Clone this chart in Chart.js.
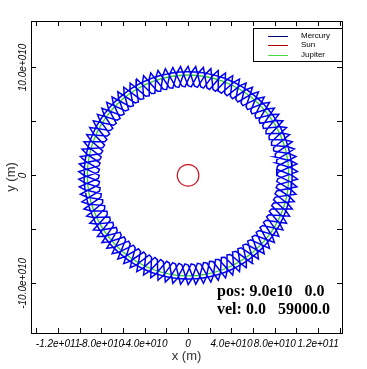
<!DOCTYPE html>
<html>
<head>
<meta charset="utf-8">
<title>Orbits</title>
<script src="https://cdn.jsdelivr.net/npm/chart.js@4.4.1/dist/chart.umd.min.js"></script>
<style>
  html, body { margin: 0; padding: 0; background: #fff; }
  #wrap { width: 367px; height: 369px; }
</style>
</head>
<body>
<div id="wrap"><canvas id="orbitChart" width="367" height="369"></canvas></div>
<script>
// all positions in units of 1e10 m

// Mercury track, first turn (loop by loop)
const mercuryX1 = [
  8.2, 8.29, 10.04, 9.51, 9.58,   8.12, 8.17, 9.80, 9.23, 9.39,   7.88, 7.89, 9.36, 8.77, 9.02,
  7.49, 7.46, 8.75, 8.14, 8.48,   6.95, 6.88, 7.96, 7.35, 7.77,   6.28, 6.17, 7.02, 6.42, 6.91,
  5.49, 5.34, 5.94, 5.37, 5.91,   4.59, 4.40, 4.74, 4.21, 4.80,   3.59, 3.38, 3.45, 2.97, 3.60,
  2.53, 2.29, 2.10, 1.67, 2.32,   1.42, 1.16, 0.70, 0.34, 1.00,   0.29, 0, -0.70, -1.00, -0.34,
  -0.86, -1.16, -2.10, -2.32, -1.67,   -1.98, -2.29, -3.45, -3.60, -2.97,   -3.07, -3.38, -4.74, -4.80, -4.21,
  -4.10, -4.40, -5.94, -5.91, -5.37,   -5.05, -5.34, -7.02, -6.91, -6.42,   -5.90, -6.17, -7.96, -7.77, -7.35,
  -6.63, -6.88, -8.75, -8.48, -8.14,   -7.24, -7.46, -9.36, -9.02, -8.77,   -7.71, -7.89, -9.80, -9.39, -9.23,
  -8.02, -8.17, -10.04, -9.58, -9.51,   -8.18, -8.29, -10.09, -9.58, -9.6,   -8.18, -8.25, -9.95, -9.39, -9.51,
  -8.02, -8.05, -9.61, -9.02, -9.23,   -7.71, -7.70, -9.08, -8.48, -8.77,   -7.24, -7.19, -8.37, -7.77, -8.14,
  -6.63, -6.54, -7.51, -6.91, -7.35,   -5.90, -5.77, -6.49, -5.91, -6.42,   -5.05, -4.88, -5.35, -4.80, -5.37,
  -4.10, -3.90, -4.11, -3.60, -4.21,   -3.07, -2.84, -2.78, -2.32, -2.97,   -1.98, -1.73, -1.41, -1.00, -1.67,
  -0.86, -0.58, 0, 0.34, -0.34,   0.29, 0.58, 1.41, 1.67, 1.00,   1.42, 1.73, 2.78, 2.97, 2.32,
  2.53, 2.84, 4.11, 4.21, 3.60,   3.59, 3.90, 5.35, 5.37, 4.80,   4.59, 4.88, 6.49, 6.42, 5.91,
  5.49, 5.77, 7.51, 7.35, 6.91,   6.28, 6.54, 8.37, 8.14, 7.77,   6.95, 7.19, 9.08, 8.77, 8.48,
  7.49, 7.70, 9.61, 9.23, 9.02,   7.88, 8.05, 9.95, 9.51, 9.39,   8.12, 8.25, 10.09, 9.6, 9.58,
  8.2
];
const mercuryY1 = [
  0, 0.29, 1.06, 1.34, 0.67,   1.14, 1.44, 2.44, 2.65, 2.00,   2.26, 2.56, 3.78, 3.90, 3.28,
  3.33, 3.64, 5.05, 5.09, 4.51,   4.35, 4.64, 6.22, 6.17, 5.64,   5.27, 5.55, 7.26, 7.13, 6.67,
  6.09, 6.36, 8.17, 7.96, 7.56,   6.80, 7.04, 8.92, 8.63, 8.31,   7.37, 7.58, 9.49, 9.13, 8.90,
  7.80, 7.98, 9.88, 9.45, 9.31,   8.08, 8.22, 10.08, 9.59, 9.55,   8.20, 8.30, 10.08, 9.55, 9.59,
  8.15, 8.22, 9.88, 9.31, 9.45,   7.96, 7.98, 9.49, 8.90, 9.13,   7.60, 7.58, 8.92, 8.31, 8.63,
  7.10, 7.04, 8.17, 7.56, 7.96,   6.46, 6.36, 7.26, 6.67, 7.13,   5.70, 5.55, 6.22, 5.64, 6.17,
  4.82, 4.64, 5.05, 4.51, 5.09,   3.85, 3.64, 3.78, 3.28, 3.90,   2.80, 2.56, 2.44, 2.00, 2.65,
  1.70, 1.44, 1.06, 0.67, 1.34,   0.57, 0.29, -0.35, -0.67, 0,   -0.57, -0.87, -1.75, -2.00, -1.34,
  -1.70, -2.01, -3.12, -3.28, -2.65,   -2.80, -3.11, -4.43, -4.51, -3.90,   -3.85, -4.15, -5.65, -5.64, -5.09,
  -4.82, -5.11, -6.76, -6.67, -6.17,   -5.70, -5.97, -7.74, -7.56, -7.13,   -6.46, -6.71, -8.56, -8.31, -7.96,
  -7.10, -7.33, -9.23, -8.90, -8.63,   -7.60, -7.80, -9.71, -9.31, -9.13,   -7.96, -8.12, -10.00, -9.55, -9.45,
  -8.15, -8.28, -10.1, -9.59, -9.59,   -8.20, -8.28, -10.00, -9.45, -9.55,   -8.08, -8.12, -9.71, -9.13, -9.31,
  -7.80, -7.80, -9.23, -8.63, -8.90,   -7.37, -7.33, -8.56, -7.96, -8.31,   -6.80, -6.71, -7.74, -7.13, -7.56,
  -6.09, -5.97, -6.76, -6.17, -6.67,   -5.27, -5.11, -5.65, -5.09, -5.64,   -4.35, -4.15, -4.43, -3.90, -4.51,
  -3.33, -3.11, -3.12, -2.65, -3.28,   -2.26, -2.01, -1.75, -1.34, -2.00,   -1.14, -0.87, -0.35, 0, -0.67,
  0
];

// Mercury track, second turn (loops sit half a step further round)
const mercuryX2 = [
  8.18, 8.25, 9.95, 9.39, 9.51,   8.02, 8.05, 9.61, 9.02, 9.23,   7.71, 7.70, 9.08, 8.48, 8.77,
  7.24, 7.19, 8.37, 7.77, 8.14,   6.63, 6.54, 7.51, 6.91, 7.35,   5.90, 5.77, 6.49, 5.91, 6.42,
  5.05, 4.88, 5.35, 4.80, 5.37,   4.10, 3.90, 4.11, 3.60, 4.21,   3.07, 2.84, 2.78, 2.32, 2.97,
  1.98, 1.73, 1.41, 1.00, 1.67,   0.86, 0.58, 0, -0.34, 0.34,   -0.29, -0.58, -1.41, -1.67, -1.00,
  -1.42, -1.73, -2.78, -2.97, -2.32,   -2.53, -2.84, -4.11, -4.21, -3.60,   -3.59, -3.90, -5.35, -5.37, -4.80,
  -4.59, -4.88, -6.49, -6.42, -5.91,   -5.49, -5.77, -7.51, -7.35, -6.91,   -6.28, -6.54, -8.37, -8.14, -7.77,
  -6.95, -7.19, -9.08, -8.77, -8.48,   -7.49, -7.70, -9.61, -9.23, -9.02,   -7.88, -8.05, -9.95, -9.51, -9.39,
  -8.12, -8.25, -10.09, -9.6, -9.58,   -8.2, -8.29, -10.04, -9.51, -9.58,   -8.12, -8.17, -9.80, -9.23, -9.39,
  -7.88, -7.89, -9.36, -8.77, -9.02,   -7.49, -7.46, -8.75, -8.14, -8.48,   -6.95, -6.88, -7.96, -7.35, -7.77,
  -6.28, -6.17, -7.02, -6.42, -6.91,   -5.49, -5.34, -5.94, -5.37, -5.91,   -4.59, -4.40, -4.74, -4.21, -4.80,
  -3.59, -3.38, -3.45, -2.97, -3.60,   -2.53, -2.29, -2.10, -1.67, -2.32,   -1.42, -1.16, -0.70, -0.34, -1.00,
  -0.29, 0, 0.70, 1.00, 0.34,   0.86, 1.16, 2.10, 2.32, 1.67,   1.98, 2.29, 3.45, 3.60, 2.97,
  3.07, 3.38, 4.74, 4.80, 4.21,   4.10, 4.40, 5.94, 5.91, 5.37,   5.05, 5.34, 7.02, 6.91, 6.42,
  5.90, 6.17, 7.96, 7.77, 7.35,   6.63, 6.88, 8.75, 8.48, 8.14,   7.24, 7.46, 9.36, 9.02, 8.77,
  7.71, 7.89, 9.80, 9.39, 9.23,   8.02, 8.17, 10.04, 9.58, 9.51,   8.18, 8.29, 10.09, 9.58, 9.6,
  8.18
];
const mercuryY2 = [
  0.57, 0.87, 1.75, 2.00, 1.34,   1.70, 2.01, 3.12, 3.28, 2.65,   2.80, 3.11, 4.43, 4.51, 3.90,
  3.85, 4.15, 5.65, 5.64, 5.09,   4.82, 5.11, 6.76, 6.67, 6.17,   5.70, 5.97, 7.74, 7.56, 7.13,
  6.46, 6.71, 8.56, 8.31, 7.96,   7.10, 7.33, 9.23, 8.90, 8.63,   7.60, 7.80, 9.71, 9.31, 9.13,
  7.96, 8.12, 10.00, 9.55, 9.45,   8.15, 8.28, 10.1, 9.59, 9.59,   8.20, 8.28, 10.00, 9.45, 9.55,
  8.08, 8.12, 9.71, 9.13, 9.31,   7.80, 7.80, 9.23, 8.63, 8.90,   7.37, 7.33, 8.56, 7.96, 8.31,
  6.80, 6.71, 7.74, 7.13, 7.56,   6.09, 5.97, 6.76, 6.17, 6.67,   5.27, 5.11, 5.65, 5.09, 5.64,
  4.35, 4.15, 4.43, 3.90, 4.51,   3.33, 3.11, 3.12, 2.65, 3.28,   2.26, 2.01, 1.75, 1.34, 2.00,
  1.14, 0.87, 0.35, 0, 0.67,   0, -0.29, -1.06, -1.34, -0.67,   -1.14, -1.44, -2.44, -2.65, -2.00,
  -2.26, -2.56, -3.78, -3.90, -3.28,   -3.33, -3.64, -5.05, -5.09, -4.51,   -4.35, -4.64, -6.22, -6.17, -5.64,
  -5.27, -5.55, -7.26, -7.13, -6.67,   -6.09, -6.36, -8.17, -7.96, -7.56,   -6.80, -7.04, -8.92, -8.63, -8.31,
  -7.37, -7.58, -9.49, -9.13, -8.90,   -7.80, -7.98, -9.88, -9.45, -9.31,   -8.08, -8.22, -10.08, -9.59, -9.55,
  -8.20, -8.3, -10.08, -9.55, -9.59,   -8.15, -8.22, -9.88, -9.31, -9.45,   -7.96, -7.98, -9.49, -8.90, -9.13,
  -7.60, -7.58, -8.92, -8.31, -8.63,   -7.10, -7.04, -8.17, -7.56, -7.96,   -6.46, -6.36, -7.26, -6.67, -7.13,
  -5.70, -5.55, -6.22, -5.64, -6.17,   -4.82, -4.64, -5.05, -4.51, -5.09,   -3.85, -3.64, -3.78, -3.28, -3.90,
  -2.80, -2.56, -2.44, -2.00, -2.65,   -1.70, -1.44, -1.06, -0.67, -1.34,   -0.57, -0.29, 0.35, 0.67, 0,
  0.57
];

// Sun (small red ring round the origin)
const sunX = [1.0, 0.87, 0.5, 0, -0.5, -0.87, -1.0, -0.87, -0.5, 0, 0.5, 0.87, 1.0];
const sunY = [0, 0.5, 0.87, 1.0, 0.87, 0.5, 0, -0.5, -0.87, -1.0, -0.87, -0.5, 0];

// Jupiter track (green ring under the Mercury loops)
const jupiterX = [9.30, 9.16, 8.74, 8.05, 7.12, 5.98, 4.65, 3.18, 1.61, 0,
  -1.61, -3.18, -4.65, -5.98, -7.12, -8.05, -8.74, -9.16, -9.30,
  -9.16, -8.74, -8.05, -7.12, -5.98, -4.65, -3.18, -1.61, 0,
  1.61, 3.18, 4.65, 5.98, 7.12, 8.05, 8.74, 9.16, 9.30];
const jupiterY = [0, 1.61, 3.18, 4.65, 5.98, 7.12, 8.05, 8.74, 9.16, 9.30,
  9.16, 8.74, 8.05, 7.12, 5.98, 4.65, 3.18, 1.61, 0,
  -1.61, -3.18, -4.65, -5.98, -7.12, -8.05, -8.74, -9.16, -9.30,
  -9.16, -8.74, -8.05, -7.12, -5.98, -4.65, -3.18, -1.61, 0];

const seriesNames = ['Mercury', 'Sun', 'Jupiter'];
const seriesColors = ['#0000ee', '#cc1122', '#33cc33'];

// ticks
const xTickMarks = [-14, -12, -10, -8, -6, -4, -2, 0, 2, 4, 6, 8, 10, 12, 14];
const xLabelValues = [-12, -8, -4, 0, 4, 8, 12];
const xLabelTexts = ['-1.2e+011', '-8.0e+010', '-4.0e+010', '0', '4.0e+010', '8.0e+010', '1.2e+011'];
const yTickMarks = [-10, -5, 0, 5, 10];
const yLabelValues = [-10, 0, 10];
const yLabelTexts = ['-10.0e+010', '0', '10.0e+010'];

const infoLines = ['pos: 9.0e10   0.0', 'vel: 0.0   59000.0'];

const toPoints = (xs, ys) => xs.map((x, i) => ({ x: x, y: ys[i] }));

// frame, inward ticks, y labels, legend box and the pos/vel text
const framePlugin = {
  id: 'framePlugin',
  afterDraw(chart) {
    const ctx = chart.ctx;
    const a = chart.chartArea;
    const xs = chart.scales.x;
    const ys = chart.scales.y;
    ctx.save();
    ctx.strokeStyle = '#000';
    ctx.lineWidth = 1;
    ctx.strokeRect(Math.round(a.left) + 0.5, Math.round(a.top) + 0.5,
      Math.round(a.right - a.left), Math.round(a.bottom - a.top));

    const tl = 5;
    ctx.beginPath();
    xTickMarks.forEach(v => {
      const px = Math.round(xs.getPixelForValue(v)) + 0.5;
      ctx.moveTo(px, a.bottom); ctx.lineTo(px, a.bottom - tl);
      ctx.moveTo(px, a.top); ctx.lineTo(px, a.top + tl);
    });
    yTickMarks.forEach(v => {
      const py = Math.round(ys.getPixelForValue(v)) + 0.5;
      ctx.moveTo(a.left, py); ctx.lineTo(a.left + tl, py);
      ctx.moveTo(a.right, py); ctx.lineTo(a.right - tl, py);
    });
    ctx.stroke();

    // rotated y tick labels
    ctx.fillStyle = '#000';
    ctx.font = 'italic 10px Arial, "Liberation Sans", sans-serif';
    ctx.textAlign = 'center';
    ctx.textBaseline = 'middle';
    yLabelValues.forEach((v, i) => {
      ctx.save();
      ctx.translate(23, ys.getPixelForValue(v));
      ctx.rotate(-Math.PI / 2);
      ctx.fillText(yLabelTexts[i], 0, 0);
      ctx.restore();
    });

    // legend box
    const lx = 253, ly = 28, lw = 89, lh = 33;
    ctx.fillStyle = '#fff';
    ctx.fillRect(lx, ly, lw, lh);
    ctx.strokeRect(lx + 0.5, ly + 0.5, lw, lh);
    ctx.font = '8px Arial, "Liberation Sans", sans-serif';
    ctx.textAlign = 'left';
    chart.data.datasets.forEach((ds, i) => {
      const y = ly + 7.5 + i * 9.5;
      ctx.strokeStyle = ds.legendColor || ds.borderColor;
      ctx.beginPath();
      ctx.moveTo(268, Math.round(y) + 0.5);
      ctx.lineTo(288, Math.round(y) + 0.5);
      ctx.stroke();
      ctx.fillStyle = '#000';
      ctx.fillText(ds.label, 301, y);
    });

    // initial conditions text
    ctx.font = 'bold 16px "Liberation Serif", "Times New Roman", serif';
    ctx.textBaseline = 'alphabetic';
    ctx.fillStyle = '#000';
    infoLines.forEach((t, i) => ctx.fillText(t, 217, 296 + i * 18));
    ctx.restore();
  }
};

Chart.defaults.font.family = 'Arial, "Liberation Sans", sans-serif';

const orbitChart = new Chart(document.getElementById('orbitChart'), {
  type: 'scatter',
  data: {
    datasets: [
      {
        label: seriesNames[0],
        data: toPoints(mercuryX1.concat(mercuryX2), mercuryY1.concat(mercuryY2)),
        showLine: true,
        borderColor: seriesColors[0],
        legendColor: '#000080',
        borderWidth: 1.5,
        pointRadius: 0,
        tension: 0
      },
      {
        label: seriesNames[1],
        data: toPoints(sunX, sunY),
        showLine: true,
        borderColor: seriesColors[1],
        legendColor: '#aa0000',
        borderWidth: 1.3,
        pointRadius: 0,
        tension: 0.35
      },
      {
        label: seriesNames[2],
        data: toPoints(jupiterX, jupiterY),
        showLine: true,
        borderColor: seriesColors[2],
        legendColor: '#44dd44',
        borderWidth: 1.3,
        pointRadius: 0,
        tension: 0.35
      }
    ]
  },
  options: {
    responsive: false,
    animation: false,
    events: [],
    layout: { padding: { left: 4, right: 25, top: 21, bottom: 2 } },
    plugins: {
      legend: { display: false },
      tooltip: { enabled: false }
    },
    scales: {
      x: {
        type: 'linear',
        min: -14.5,
        max: 14.2,
        afterBuildTicks: s => { s.ticks = xTickMarks.map(v => ({ value: v })); },
        afterFit: s => { s.height = 34; },
        grid: { display: false, drawTicks: false },
        border: { display: false },
        ticks: {
          autoSkip: false,
          maxRotation: 0,
          minRotation: 0,
          padding: 5,
          color: '#000',
          font: { size: 10, style: 'italic' },
          callback: v => {
            const i = xLabelValues.indexOf(v);
            return i >= 0 ? xLabelTexts[i] : '';
          }
        },
        title: {
          display: true,
          text: 'x (m)',
          color: '#333',
          font: { size: 13 },
          padding: { top: 0, bottom: 3 }
        }
      },
      y: {
        type: 'linear',
        min: -14.6,
        max: 14.3,
        afterBuildTicks: s => { s.ticks = yTickMarks.map(v => ({ value: v })); },
        afterFit: s => { s.width = 27; },
        grid: { display: false, drawTicks: false },
        border: { display: false },
        ticks: { display: false },
        title: {
          display: true,
          text: 'y (m)',
          color: '#333',
          font: { size: 13 },
          padding: { top: 0, bottom: 2 }
        }
      }
    }
  },
  plugins: [framePlugin]
});
</script>
</body>
</html>
